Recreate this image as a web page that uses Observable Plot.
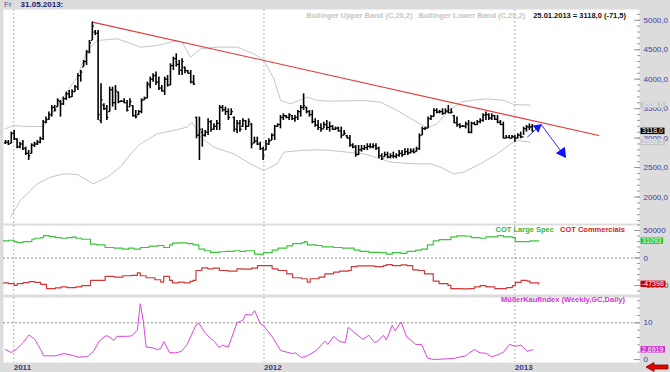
<!DOCTYPE html>
<html><head><meta charset="utf-8">
<script src="https://cdn.jsdelivr.net/npm/d3@7"></script>
<script src="https://cdn.jsdelivr.net/npm/@observablehq/plot@0.6"></script>
<style>
html,body{margin:0;padding:0;background:#dcdcdc;}
#chart{position:relative;width:670px;height:372px;background:#dcdcdc;overflow:hidden;font-family:"Liberation Sans",Arial,sans-serif;}
#chart svg{position:absolute;left:0;}
.lg{position:absolute;white-space:nowrap;font-size:7.5px;font-weight:bold;line-height:9px;}
</style></head>
<body><div id="chart"></div>
<script>
// ---------- DATA ----------
const headerDay = "Fr";
const headerDate = "31.05.2013:";
const lastQuote = "25.01.2013 = 3118,0 (-71,5)";
const legendMain = ["Bollinger Upper Band (C,20,2)", "Bollinger Lower Band (C,20,2)"];
const legendCot = ["COT Large Spec", "COT Commercials"];
const legendMki = "MüllerKaufIndex (Weekly,GC,Daily)";
const years = [2011, 2012, 2013];

// price bars (one per period, in order)
const high = [2959,2959,3101,3129,2988,2931,2959,2846,2790,2903,
2930,2959,3016,3299,3356,3441,3554,3554,3667,3639,
3695,3780,3808,3820,3893,4091,4148,4318,4488,4657,
4969,4827,4827,3922,3582,3554,3865,3865,3893,3780,
3639,3667,3639,3667,3554,3469,3469,3667,3695,3950,
4035,4091,4120,4035,3893,4035,4063,4261,4374,4431,
4318,4346,4205,4148,4148,4063,3356,3356,3157,3129,
3327,3299,3242,3299,3554,3554,3526,3497,3497,3356,
3299,3299,3327,3299,3327,3242,3016,3016,2931,2846,
2959,2988,3072,3214,3242,3384,3412,3384,3412,3384,
3384,3469,3554,3752,3526,3469,3469,3327,3299,3242,
3271,3299,3271,3214,3186,3186,3186,3129,3044,3044,
2903,2874,2874,2874,2874,2903,2903,2903,2903,2846,
2733,2761,2761,2733,2761,2733,2790,2790,2818,2818,
2818,2818,2846,3072,3186,3186,3356,3384,3497,3497,
3469,3497,3497,3554,3497,3384,3356,3242,3214,3271,
3299,3271,3271,3299,3327,3412,3441,3412,3412,3384,
3384,3299,3271,3044,3044,3044,3044,3072,3101,3186,
3214,3242,3230];
const low = [2891,2874,2903,2959,2818,2818,2790,2705,2620,2733,
2840,2874,2903,2959,3242,3299,3356,3441,3526,3356,
3554,3639,3667,3690,3780,3808,3950,4205,4233,4431,
4657,4742,3299,3242,3469,3299,3441,3526,3469,3582,
3610,3582,3441,3526,3356,3327,3384,3412,3639,3667,
3837,3950,3893,3808,3780,3723,3865,3893,4148,4205,
4063,4063,4091,4091,3922,3893,2988,2620,2846,3016,
3044,3101,3129,3129,3129,3441,3384,3299,3384,3101,
3072,3101,3186,3129,3186,2818,2903,2874,2790,2620,
2790,2874,2959,2959,3186,3157,3299,3327,3299,3299,
3271,3299,3356,3469,3412,3356,3242,3186,3129,3101,
3157,3129,3101,3129,3129,3101,2988,3044,2988,2846,
2818,2676,2705,2761,2790,2790,2818,2818,2790,2648,
2620,2676,2648,2648,2648,2648,2676,2676,2705,2705,
2733,2733,2761,2790,3044,3129,3157,3299,3356,3412,
3412,3384,3412,3412,3412,3242,3186,3157,3186,3157,
3072,3072,3214,3214,3242,3271,3299,3299,3299,3299,
3242,3214,2988,2988,2988,2988,2931,2988,2988,3044,
3101,3129,3100];
const open = [2920,2930,2910,3080,2980,2850,2900,2830,2740,2740,
2880,2900,2930,2990,3270,3320,3400,3520,3530,3620,
3580,3670,3750,3700,3790,3870,4060,4210,4300,4460,
4660,4800,4780,3300,3560,3500,3450,3820,3600,3780,
3620,3625,3600,3530,3550,3380,3400,3450,3650,3680,
3900,4000,4060,3950,3850,3800,4000,3900,4230,4350,
4250,4150,4200,4140,4100,3950,3350,3050,3100,3050,
3100,3280,3150,3200,3250,3520,3480,3450,3400,3350,
3150,3250,3200,3290,3200,3240,2920,2950,2900,2820,
2800,2900,2960,3050,3200,3230,3350,3380,3350,3380,
3330,3350,3450,3520,3520,3450,3400,3280,3220,3180,
3160,3230,3180,3200,3150,3170,3120,3050,3040,3000,
2880,2850,2720,2800,2820,2840,2860,2850,2870,2830,
2700,2680,2720,2680,2700,2690,2710,2740,2720,2770,
2750,2780,2770,2820,3050,3160,3170,3330,3370,3470,
3440,3450,3420,3460,3430,3380,3260,3230,3200,3200,
3240,3100,3250,3230,3280,3300,3390,3400,3340,3380,
3320,3270,3230,3000,3010,3000,3020,3000,3050,3020,
3160,3190,3190];
const close = [2930,2900,3080,2990,2850,2900,2820,2740,2700,2880,
2900,2930,2990,3270,3320,3400,3520,3480,3640,3580,
3670,3750,3700,3790,3870,4060,4120,4300,4460,4620,
4900,4780,3400,3650,3500,3350,3820,3600,3800,3620,
3625,3600,3470,3620,3380,3360,3450,3640,3680,3920,
4000,4060,3950,3850,3800,4000,3900,4230,4350,4250,
4150,4300,4150,4100,3950,3920,3050,3150,3050,3100,
3280,3150,3200,3250,3520,3480,3450,3350,3450,3150,
3250,3150,3300,3200,3280,2900,2950,2900,2820,2700,
2900,2950,3050,3200,3230,3350,3380,3350,3400,3330,
3350,3450,3520,3550,3450,3400,3280,3220,3180,3150,
3230,3180,3200,3150,3170,3120,3050,3080,3000,2880,
2850,2720,2800,2820,2840,2860,2850,2870,2830,2700,
2650,2720,2680,2700,2690,2710,2740,2720,2770,2750,
2780,2760,2820,3040,3160,3170,3330,3370,3470,3440,
3450,3420,3460,3430,3440,3260,3230,3200,3200,3240,
3100,3250,3230,3280,3300,3390,3400,3340,3380,3320,
3270,3230,3000,3010,3000,3020,3000,3050,3020,3160,
3190,3190,3118];

// Bollinger bands (position in chart slots, value)
const upperSlot = [0,2.8,7.4,13.1,18.8,24.5,27.9,31.3,38.1,46.1,51.8,58.6,60.3,63.1,66.6,72.3,79.1,84.7,88.2,91.6,93.9,97.3,103,106.4,110.9,122.3,128,133.7,139.4,143.9,147.3,150.8,155.3,158.7,164.4,170.1,173.5,179.2];
const upperBand = [3158,3214,3197,3197,3639,4035,4488,4657,4686,4544,4572,4657,4629,4374,4516,4544,4544,4431,4318,4006,3639,3582,3695,3639,3627,3639,3610,3469,3299,3175,3242,3441,3610,3639,3667,3639,3571,3558.5];
const lowerSlot = [1.7,5.1,10.8,15.4,19.9,24.5,29.9,34.7,39.2,42.7,46.1,51.8,57.4,62,63.7,66.6,71.1,77.9,83.6,88.2,92.7,95,100.7,106.4,110.9,122.3,128,131.4,139.4,145.1,148.5,153,156.4,162.1,167.8,172.4,174.6,179.2];
const lowerBand = [1658,1941,2224,2337,2393,2382,2224,2337,2507,2733,2903,3073,3129,3186,3271,3016,2846,2733,2563,2450,2563,2761,2790,2801,2790,2733,2648,2592,2563,2563,2507,2393,2422,2563,2733,2903,2959,2930.5];

// trend line and forecast arrows (slot, value)
const trendSlot = [29.7, 202.5];
const trendValue = [4969, 3044];
const arrowSlot = [178.1, 182.8, 191.1];
const arrowValue = [3015, 3231, 2675];

// COT
const cotLargeSlot = [-1,1,3,4,6,9,10,12,13,15,17,19,21,23,24,26,29,31,34,37,40,42,44,46,49,52,54,56,57,59,62,64,66,68,70,73,75,78,80,82,85,87,88,91,93,96,98,101,102,103,106,108,112,115,119,121,124,128,130,132,135,137,140,142,144,146,148,152,154,157,159,162,164,168,170,173,174,176,179,182];
const cotLarge = [31100,32300,29900,28100,29900,34100,35900,37100,40700,38900,37100,35900,37100,38300,35900,34100,25100,23900,19100,17900,16100,17900,16100,19100,21500,22700,19100,23900,26900,27500,26300,23900,16100,13200,10200,11400,12000,13200,12000,13200,7200,6000,9600,14400,17900,22100,26300,27500,29900,23900,22700,20300,19100,17900,14400,12000,10200,9600,7200,9600,8400,12000,14400,16100,23900,31100,33500,38300,40100,39500,37100,35900,38300,40700,38300,37100,29900,29900,31100,31093];
const cotCommSlot = [-1,1,3,4,6,8,10,12,14,17,19,21,24,26,29,32,34,37,40,43,45,46,48,51,53,54,56,57,59,61,63,64,65,67,69,71,73,76,79,81,84,86,89,91,93,96,98,101,103,104,107,109,112,114,117,118,120,124,126,129,130,132,135,137,139,141,143,146,148,151,152,156,158,160,162,164,167,169,171,173,174,176,178,179,182];
const cotComm = [-45400,-46600,-49600,-46600,-44900,-43100,-44300,-47800,-55600,-54400,-52600,-53800,-52600,-50200,-40700,-40700,-33500,-34700,-32300,-31700,-26900,-32300,-35900,-39500,-43700,-33500,-40700,-45400,-43700,-45400,-42500,-40700,-22700,-17900,-19700,-18500,-22700,-23900,-19700,-20300,-18500,-13800,-13800,-19700,-22700,-28700,-35900,-37700,-43700,-37700,-34700,-28700,-25700,-23900,-22700,-15500,-14400,-14400,-15500,-13800,-12000,-13800,-12600,-13800,-21500,-22700,-28700,-41900,-46600,-49600,-55600,-56200,-55600,-52600,-50200,-52600,-55600,-55600,-53800,-50200,-44300,-40700,-41900,-45400,-47398];

// MüllerKaufIndex
const mkiSlot = [0,2,4,6,8,10,12,13,17,20,23,25,28,30,32,34,35,37,38,41,43,45,46,47,48,50,52,53,54,56,58,60,62,65,66,68,70,71,73,74,76,77,79,81,82,84,85,87,88,91,94,96,98,99,101,103,106,109,110,112,114,116,117,119,122,124,126,127,129,130,132,133,135,137,138,140,142,144,146,149,153,157,158,160,162,164,166,168,170,172,174,176,178,180];
const mki = [2.7,1.9,3.0,4.6,6.7,5.5,2.7,1.0,1.0,1.6,1.1,0.6,0.8,2.2,5.0,6.4,6.4,5.2,6.3,6.3,6.4,8.0,15.2,10.7,3.4,3.2,2.7,3.0,4.9,1.9,1.8,2.2,4.1,9.4,9.9,7.4,5.7,5.2,3.2,3.9,3.4,5.5,10.0,10.7,12.3,12.1,13.3,9.7,9.3,6.2,2.4,2.0,1.6,1.8,0.5,1.0,2.4,5.0,4.1,6.3,4.9,4.6,8.8,7.4,5.5,6.6,4.6,5.0,6.6,5.3,9.3,7.8,10.2,6.0,5.5,4.1,4.1,0.4,0.0,0.1,0.3,1.0,1.6,2.7,1.8,1.7,0.7,1.3,2.0,4.1,3.6,3.9,2.2,2.6919];

// axis ticks
const mainTicks = [2000,2500,3000,3500,4000,4500,5000];
const cotTicks = [-50000,0,50000];
const mkiTicks = [0,10];

// ---------- LAYOUT / SCALES ----------
const DAY = 864e5;
const t0 = Date.UTC(2010, 11, 20);
const BAR_DAYS = 4.222, SLOT_DAYS = 4.274, PX_DAYS = 1.4587;
const barDate = i => new Date(t0 + i * BAR_DAYS * DAY);
const slotDate = s => new Date(t0 + s * SLOT_DAYS * DAY);
const xDomain = [new Date(t0 - 2 * PX_DAYS * DAY), new Date(t0 + 634 * PX_DAYS * DAY)];
const yearDates = years.map(y => new Date(Date.UTC(y, 0, 1)));

const bars = high.map((h, i) => ({date: barDate(i), high: h, low: low[i], open: open[i], close: close[i]}));
const upper = upperSlot.map((s, i) => ({date: slotDate(s), v: upperBand[i]}));
const lower = lowerSlot.map((s, i) => ({date: slotDate(s), v: lowerBand[i]}));
const trend = trendSlot.map((s, i) => ({date: slotDate(s), v: trendValue[i]}));
const shafts = [0, 1].map(i => ({x1: slotDate(arrowSlot[i]), y1: arrowValue[i], x2: slotDate(arrowSlot[i + 1]), y2: arrowValue[i + 1]}));
const cotL = cotLargeSlot.map((s, i) => ({date: slotDate(s), v: cotLarge[i]}));
const cotC = cotCommSlot.map((s, i) => ({date: slotDate(s), v: cotComm[i]}));
const mkiData = mkiSlot.map((s, i) => ({date: slotDate(s), v: mki[i]}));

const comma1 = d => d3.format(".1f")(d).replace(".", ",");
const AXIS_COLOR = "#3c3ca0";
const W = 670;
const base = {
  width: W, marginLeft: 3, marginRight: 31, marginTop: 0,
  style: {background: "transparent", fontFamily: "'Liberation Sans', Arial, sans-serif", fontSize: "8px", color: AXIS_COLOR, overflow: "visible"}
};
const grid = () => Plot.gridX(yearDates, {stroke: "#b4b4b4", strokeOpacity: 1, strokeDasharray: "2,2"});
const ticksAxis = (data, size) => Plot.axisY(data, {anchor: "right", tickSize: -size, fill: "none", stroke: "#9a9a9a", label: null});
const labelAxis = (data, fmt) => Plot.axisY(data, {anchor: "right", tickSize: 0, tickPadding: 4, tickFormat: fmt, fill: AXIS_COLOR, label: null});

const boxStyles = new Map();
function valueBox(value, label, bg, fg) {
  boxStyles.set(label, bg);
  return Plot.text([value], {y: d => d, text: () => label, frameAnchor: "right", dx: 2.5, textAnchor: "start", fill: fg, fontSize: 7});
}

const chart = document.getElementById("chart");

// header
const hdr = document.createElement("div");
hdr.className = "lg";
hdr.style.cssText = "left:4px;top:0;font-size:8px;line-height:10px;font-weight:normal;color:#55558a";
hdr.innerHTML = `${headerDay}<span style="margin-left:9px;font-weight:bold;color:#1a1a78">${headerDate}</span>`;
chart.appendChild(hdr);

// main panel
const p1 = Plot.plot({
  ...base, height: 214, marginBottom: 0,
  x: {type: "utc", domain: xDomain, axis: null},
  y: {domain: [1550, 5183]},
  marks: [
    Plot.frame({fill: "white", stroke: "none"}),
    grid(),
    ticksAxis(d3.range(1600, 5200, 100), 3),
    ticksAxis(mainTicks, 6),
    labelAxis(mainTicks, comma1),
    Plot.line(upper, {x: "date", y: "v", stroke: "#c6c6c6", strokeWidth: 1}),
    Plot.line(lower, {x: "date", y: "v", stroke: "#c6c6c6", strokeWidth: 1}),
    Plot.line(trend, {x: "date", y: "v", stroke: "#e23a3a", strokeWidth: 1.1}),
    Plot.ruleX(bars, {x: "date", y1: "low", y2: "high", stroke: "#000", strokeWidth: 1.6}),
    Plot.link(bars, {x1: d => new Date(+d.date - 0.55 * BAR_DAYS * DAY), x2: "date", y1: "open", y2: "open", stroke: "#000", strokeWidth: 1.2}),
    Plot.link(bars, {x1: "date", x2: d => new Date(+d.date + 0.55 * BAR_DAYS * DAY), y1: "close", y2: "close", stroke: "#000", strokeWidth: 1.2}),
    Plot.link(shafts, {x1: "x1", y1: "y1", x2: "x2", y2: "y2", stroke: "#2a2aff", strokeWidth: 1}),
    Plot.dot([shafts[0]], {x: "x2", y: "y2", symbol: "triangle", r: 3.4, rotate: 51, fill: "#1212ff", stroke: "none", dx: -3.5, dy: 3}),
    Plot.dot([shafts[1]], {x: "x2", y: "y2", symbol: "triangle", r: 4.2, rotate: 144, fill: "#1212ff", stroke: "none", dx: -3.2, dy: -4.6}),
    valueBox(upperBand[upperBand.length - 1], comma1(upperBand[upperBand.length - 1]), "#c4c4c4", "#f4f4f4"),
    valueBox(lowerBand[lowerBand.length - 1], comma1(lowerBand[lowerBand.length - 1]), "#c4c4c4", "#f4f4f4"),
    valueBox(close[close.length - 1], comma1(close[close.length - 1]), "#000", "#fff")
  ]
});
p1.style.top = "9px";
chart.appendChild(p1);

// COT panel
const p2 = Plot.plot({
  ...base, height: 69, marginBottom: 0,
  x: {type: "utc", domain: xDomain, axis: null},
  y: {domain: [-66357, 59085]},
  marks: [
    Plot.frame({fill: "white", stroke: "none"}),
    grid(),
    Plot.ruleY([0], {stroke: "#8a8a8a", strokeDasharray: "2,2"}),
    ticksAxis(d3.range(-60000, 60001, 10000), 3),
    ticksAxis(cotTicks, 6),
    labelAxis(cotTicks, d => String(d)),
    Plot.line(cotL, {x: "date", y: "v", curve: "step-after", stroke: "#3cc43c", strokeWidth: 1.2, clip: true}),
    Plot.line(cotC, {x: "date", y: "v", curve: "step-after", stroke: "#d03838", strokeWidth: 1.2, clip: true}),
    valueBox(cotLarge[cotLarge.length - 1], String(cotLarge[cotLarge.length - 1]), "#1ec81e", "#fff"),
    valueBox(cotComm[cotComm.length - 1], String(cotComm[cotComm.length - 1]), "#cc0000", "#fff")
  ]
});
p2.style.top = "225px";
chart.appendChild(p2);

// MKI panel
const p3 = Plot.plot({
  ...base, height: 75, marginBottom: 10,
  x: {type: "utc", domain: xDomain},
  y: {domain: [-0.82, 16.89]},
  marks: [
    Plot.frame({fill: "white", stroke: "none"}),
    grid(),
    Plot.ruleY([10], {stroke: "#8a8a8a", strokeDasharray: "2,2"}),
    ticksAxis(d3.range(0, 17, 2), 3),
    ticksAxis(mkiTicks, 6),
    labelAxis(mkiTicks, d => String(d)),
    Plot.line(mkiData, {x: "date", y: "v", stroke: "#dd44dd", strokeWidth: 1, clip: true}),
    valueBox(mki[mki.length - 1], d3.format(".4f")(mki[mki.length - 1]).replace(".", ","), "#cc33cc", "#fff"),
    Plot.axisX(yearDates, {anchor: "bottom", tickSize: 0, tickPadding: 1.5, tickFormat: d3.utcFormat("%Y"), textAnchor: "start", fontWeight: "bold", fill: "#34348a", label: null})
  ]
});
p3.style.top = "297px";
chart.appendChild(p3);

// legends
function legend(top, right, parts) {
  const d = document.createElement("div");
  d.className = "lg";
  d.style.top = top + "px";
  d.style.right = right + "px";
  d.innerHTML = parts.map(([t, c, m]) => `<span style="color:${c};margin-left:${m}px">${t}</span>`).join("");
  chart.appendChild(d);
}
legend(10.5, 44, [[legendMain[0], "#c4c4c4", 0], [legendMain[1], "#c4c4c4", 6], [lastQuote, "#111", 8]]);
legend(225, 45, [[legendCot[0], "#33b833", 0], [legendCot[1], "#cc2222", 6]]);
legend(295, 45, [[legendMki, "#cc33cc", 0]]);

// red navigation arrow (decoration)
const nav = document.createElementNS("http://www.w3.org/2000/svg", "svg");
nav.setAttribute("width", 24); nav.setAttribute("height", 10);
nav.style.cssText = "position:absolute;left:645px;top:362px";
nav.innerHTML = '<polygon points="1,5 9,0.5 9,3 23,3 23,7 9,7 9,9.5" fill="#e80000" stroke="#7a0000" stroke-width="0.8"/>';
chart.appendChild(nav);

// backgrounds for value boxes
chart.querySelectorAll("svg text").forEach(t => {
  const bg = boxStyles.get(t.textContent);
  if (!bg) return;
  const bb = t.getBBox();
  const r = document.createElementNS("http://www.w3.org/2000/svg", "rect");
  r.setAttribute("x", bb.x - 1.5);
  r.setAttribute("y", bb.y + 0.3);
  r.setAttribute("width", bb.width + 3);
  r.setAttribute("height", bb.height - 0.6);
  r.setAttribute("fill", bg);
  if (t.getAttribute("transform")) r.setAttribute("transform", t.getAttribute("transform"));
  t.parentNode.insertBefore(r, t);
});
</script></body></html>
